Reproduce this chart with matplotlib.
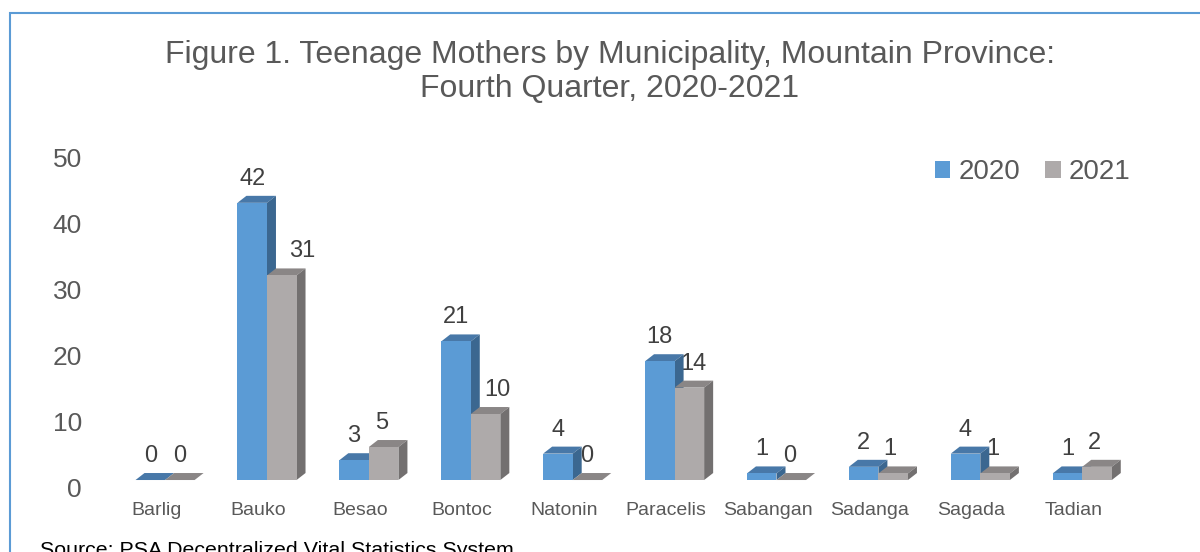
import matplotlib.pyplot as plt
from matplotlib.patches import Polygon, Rectangle, Patch
from matplotlib.transforms import ScaledTranslation
import numpy as np

plt.rcParams['font.family'] = ['Liberation Sans', 'DejaVu Sans']

municipalities = ['Barlig', 'Bauko', 'Besao', 'Bontoc', 'Natonin',
                  'Paracelis', 'Sabangan', 'Sadanga', 'Sagada', 'Tadian']
mothers_2020 = [0, 42, 3, 21, 4, 18, 1, 2, 4, 1]
mothers_2021 = [0, 31, 5, 10, 0, 14, 0, 1, 1, 2]
years = ['2020', '2021']

# sideways nudge (px) for the 2021 labels, so they clear the taller blue bars
nudge_2021 = [0, 20, -2, 12, -1, 4, -2, -3, -2, -3]

blue = ('#5B9BD5', '#4878A8', '#3B6790')   # front, top, side
gray = ('#AEAAAA', '#8A8686', '#737070')
text_gray = '#595959'

fig = plt.figure(figsize=(12, 5.52), dpi=100)
ax = fig.add_axes([0.0866, 0.1304, 0.8662, 0.5978])
ax.set_xlim(-0.6, 9.6)
ax.set_ylim(0, 50)

# depth of the fake 3d bars: 9 px right, 7 px up, turned into data units
inv = ax.transData.inverted()
o = inv.transform((0, 0))
d = inv.transform((9, 7))
ddx, ddy = d[0] - o[0], d[1] - o[1]

width = 0.29
x = np.arange(len(municipalities))


def bar3d(xs, vals, colors, z):
    front, top, side = colors
    for xc, v in zip(xs, vals):
        x0, x1 = xc - width / 2, xc + width / 2
        ax.add_patch(Polygon([(x0, v), (x1, v), (x1 + ddx, v + ddy), (x0 + ddx, v + ddy)],
                             closed=True, fc=top, ec='none', zorder=z, clip_on=False))
        ax.add_patch(Polygon([(x1, 0), (x1, v), (x1 + ddx, v + ddy), (x1 + ddx, ddy)],
                             closed=True, fc=side, ec='none', zorder=z, clip_on=False))
    ax.bar(xs, vals, width, color=front, zorder=z, clip_on=False)


bar3d(x - width / 2, mothers_2020, blue, 3)
bar3d(x + width / 2, mothers_2021, gray, 4)

for i in range(len(x)):
    ax.annotate(str(mothers_2020[i]), (x[i] - width / 2, mothers_2020[i]),
                xytext=(0, 17.3), textcoords='offset points', ha='center', va='center',
                fontsize=17, color='#404040', zorder=2)
    ax.annotate(str(mothers_2021[i]), (x[i] + width / 2, mothers_2021[i]),
                xytext=(nudge_2021[i] * 0.72, 17.3), textcoords='offset points',
                ha='center', va='center', fontsize=17, color='#404040', zorder=2)

ax.set_yticks(np.arange(0, 51, 10))
ax.set_xticks(x)
ax.set_xticklabels(municipalities)
ax.tick_params(axis='y', length=0, pad=15.8, labelsize=19, labelcolor=text_gray)
ax.tick_params(axis='x', length=0, pad=15.5, labelsize=14, labelcolor=text_gray)
for lab in ax.get_yticklabels():
    lab.set_transform(lab.get_transform() + ScaledTranslation(0, -0.075, fig.dpi_scale_trans))
for lab in ax.get_xticklabels():
    lab.set_transform(lab.get_transform() + ScaledTranslation(-0.09, 0, fig.dpi_scale_trans))
for s in ax.spines.values():
    s.set_visible(False)
ax.patch.set_alpha(0)

fig.text(0.508, 1 - 72 / 552,
         'Figure 1. Teenage Mothers by Municipality, Mountain Province:\nFourth Quarter, 2020-2021',
         ha='center', va='center', fontsize=23, color=text_gray, linespacing=1.21)

fig.legend(handles=[Patch(fc=blue[0]), Patch(fc=gray[0])], labels=years,
           loc='center left', bbox_to_anchor=(935 / 1200, 1 - 172 / 552),
           frameon=False, fontsize=20, handlelength=0.55, handleheight=0.55,
           handletextpad=0.3, columnspacing=0.9, ncol=2, borderpad=0,
           borderaxespad=0, labelcolor=text_gray)

fig.text(40 / 1200, 1 - 541 / 552, 'Source: PSA Decentralized Vital Statistics System',
         ha='left', va='top', fontsize=15.4, color='black')

# chart frame, only its top and left edges fall inside the picture
fig.add_artist(Rectangle((10 / 1200, -0.1), 1.2, 1 - 13 / 552 + 0.1,
                         transform=fig.transFigure, fill=False,
                         edgecolor='#5B9BD5', lw=1.5))

fig.savefig('out.png', dpi=100)
